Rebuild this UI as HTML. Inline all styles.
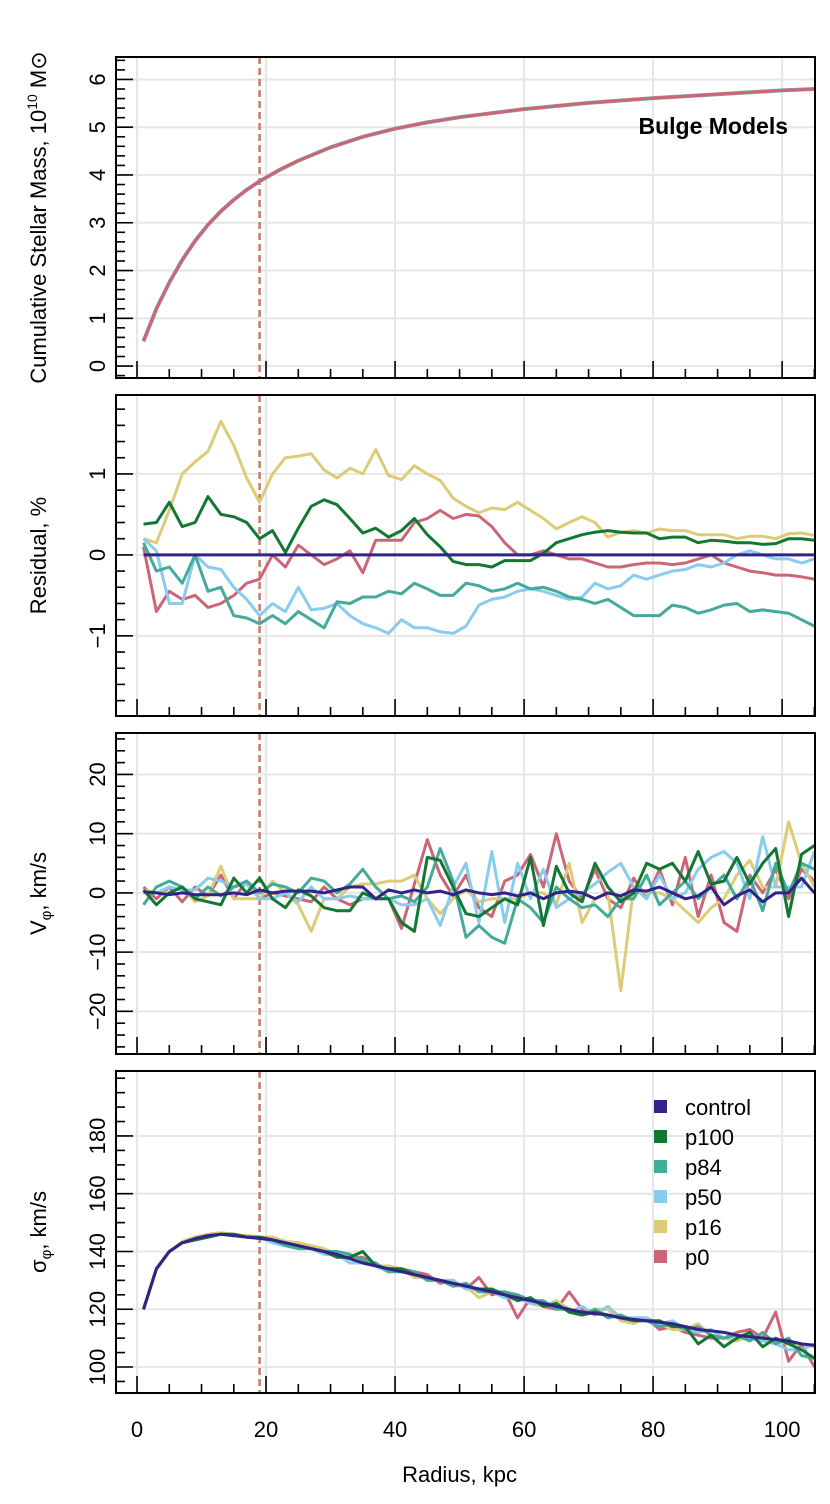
<!DOCTYPE html>
<html><head><meta charset="utf-8">
<style>
html,body{margin:0;padding:0;background:#fff;}
svg{display:block;font-family:"Liberation Sans",sans-serif;}
</style></head>
<body>
<svg id="chart" width="830" height="1504" viewBox="0 0 830 1504" xmlns="http://www.w3.org/2000/svg"></svg>
<script>
const radius = [1,3,5,7,9,11,13,15,17,19,21,23,25,27,29,31,33,35,37,39,41,43,45,47,49,51,53,55,57,59,61,63,65,67,69,71,73,75,77,79,81,83,85,87,89,91,93,95,97,99,101,103,105];
const massRadius = [1,3,5,7,9,11,13,15,17,19,22,25,30,35,40,45,50,60,70,80,90,100,105];
const massValues = [0.52,1.2,1.75,2.22,2.62,2.96,3.24,3.48,3.69,3.87,4.1,4.3,4.58,4.8,4.97,5.1,5.21,5.38,5.51,5.61,5.69,5.77,5.8];
const seriesNames = ["control","p100","p84","p50","p16","p0"];
const seriesColors = ["#332288","#117733","#44AA99","#88CCEE","#DDCC77","#CC6677"];
const xTicks = [0,20,40,60,80,100];

const resControl = radius.map(()=>0);
const resP100 = [0.38,0.4,0.65,0.35,0.4,0.72,0.5,0.47,0.4,0.2,0.3,0.03,0.33,0.6,0.68,0.62,0.45,0.27,0.33,0.22,0.3,0.45,0.25,0.1,-0.08,-0.12,-0.12,-0.15,-0.07,-0.07,-0.07,0.02,0.15,0.2,0.25,0.28,0.3,0.28,0.27,0.27,0.2,0.22,0.22,0.15,0.18,0.17,0.15,0.15,0.13,0.14,0.2,0.2,0.18];
const resP84 = [0.15,-0.2,-0.15,-0.35,0,-0.45,-0.4,-0.75,-0.78,-0.85,-0.75,-0.85,-0.7,-0.8,-0.9,-0.58,-0.6,-0.52,-0.52,-0.45,-0.48,-0.35,-0.42,-0.5,-0.5,-0.35,-0.38,-0.45,-0.42,-0.35,-0.42,-0.4,-0.45,-0.52,-0.55,-0.6,-0.55,-0.65,-0.75,-0.75,-0.75,-0.62,-0.65,-0.72,-0.68,-0.62,-0.6,-0.7,-0.68,-0.7,-0.72,-0.8,-0.88];
const resP50 = [0.2,0.05,-0.6,-0.6,0,-0.15,-0.18,-0.4,-0.55,-0.75,-0.6,-0.7,-0.4,-0.68,-0.66,-0.6,-0.75,-0.85,-0.9,-0.97,-0.8,-0.9,-0.9,-0.95,-0.97,-0.88,-0.62,-0.55,-0.52,-0.45,-0.42,-0.45,-0.5,-0.55,-0.52,-0.35,-0.42,-0.38,-0.25,-0.3,-0.25,-0.2,-0.18,-0.12,-0.15,-0.1,0,0.05,0,-0.05,-0.05,-0.1,-0.05];
const resP16 = [0.2,0.15,0.55,1.0,1.15,1.28,1.65,1.35,0.95,0.65,1.0,1.2,1.22,1.25,1.05,0.95,1.07,1.0,1.3,0.98,0.93,1.1,1.0,0.92,0.7,0.6,0.52,0.58,0.56,0.65,0.55,0.45,0.32,0.4,0.47,0.4,0.22,0.28,0.3,0.27,0.32,0.3,0.3,0.25,0.25,0.25,0.2,0.23,0.23,0.2,0.26,0.27,0.24];
const resP0 = [0.1,-0.7,-0.45,-0.55,-0.5,-0.65,-0.6,-0.5,-0.35,-0.3,0,-0.15,0.12,0,-0.12,-0.05,0.05,-0.22,0.18,0.18,0.18,0.4,0.45,0.55,0.45,0.5,0.48,0.35,0.15,0,0,0.05,0,-0.05,-0.05,-0.1,-0.15,-0.15,-0.12,-0.1,-0.1,-0.12,-0.1,-0.05,0,-0.1,-0.15,-0.2,-0.22,-0.25,-0.25,-0.27,-0.3];

const vControl = [0.2,0,-0.3,0,-0.3,-0.3,-0.3,0,-0.3,0.5,0,0.3,0.3,0.3,0,0.5,1,1,-1,0.5,0,0.5,0,0.3,-0.3,0.5,0,-0.3,0,-0.5,0,-1,0,0.3,0,-1,0,-0.5,0.5,0.3,1,0,-1,-0.5,1,-2,-0.5,0.5,-1.5,0,0,2.5,0];
const vP100 = [0.5,-2,0,1,-1,-1.5,-2,2.5,0,2.5,-1,-2.5,0.5,-0.5,-2.5,-3,-3,0,-1,-1,-5,-6.5,6,5.5,1,-3.5,-4,-2.5,-1,-2,6,-5.5,4.5,0,-1.5,5,1,-1.5,0,5,4,5,2,7,1.5,2,6,1.5,5,7.5,-4,6.5,8];
const vP84 = [-2,1,2,1,-1,1,-0.5,1,2,0,1.5,1,0,2.5,2,0,1.5,4,1,-1,-0.5,-1.5,1,7.5,2,-7.5,-5.5,-7.5,-8.5,-1,-2.5,-5,1,-1,-2.5,-2,-4,-1,-1,3,-2,0,2,-1,1,3,-1,2.5,-3,5,0,5,4];
const vP50 = [0,0,1,0.5,0.5,2.5,2,1,1.5,-1,-1,0,-1.5,1,-1,-1,-0.5,-1,-1,-1,-2,-2,-1,-5.5,1,5,-5,7,-5,5,-1,4,-2.5,-1,0,1.5,3.5,5,1,-1,3,-1,0,4,6,7,5,-1,9.5,1,1,1,7];
const vP16 = [0.5,0,0,1,-1.5,-0.5,4.5,-1,-1,-1,2,0,-2,-6.5,-1,-1,1,1.5,1.5,2,2,3,-1,-3.5,-1,0.5,-1.5,-1,-1,-1,0,0,-2,5,-5,-1,0,-16.5,1,0,0,-1,-3,-5,-2.5,-1,3,5.5,1,1,12,5,1];
const vP0 = [1,-1,1,-1.5,1,-0.5,3,-1,2,-1,0,-0.5,-1,-1.5,1,-1,-2,-1,-1,-1,-6,1.5,9,3,-0.5,3,-2.5,-4,2,3,6.5,1,10,2,-1,4,-1,-2.5,2.5,-1,4,-2,6,-4,3,-5,-6.5,3,0,4,-1,4,2];

const sControl = [120,134,140,143,144.5,145.5,146,145.5,145,144.5,144,143,142,141,140,139,137.5,136,135,134,133,132,131,130,129,128,127,126,125,124,123,122,121,120,119,118.5,118,117,116.5,116,115.5,115,114,113,112.5,112,111,110.5,110,109.5,109,108,107.5];
const sP100 = [120,134,140,143,144,145,146,146,145,145,144,143,142,141,140,138,138,140,135,134,134,132,131,130,129,128,127,127,125,123,124,121,122,119,118,119,118,117,116,116,116,114,114,108,111,107,110,112,107,110,108,106,103];
const sP84 = [120,134,140,143,144,145,146,145.5,145,145,144,142,141,141,140,140,139,137,136,133,133,133,130,130,128,129,126,126,126,125,123,123,120,120,118,120,117,118,116,116,114,115,113,114,111,110,111,109,112,108,110,104,103];
const sP50 = [120,134,140,143,144.5,145.5,146,145.5,145,145,143,142,142,141,139,139,136,136,135,133,134,132,131,130,130,127,127,126,124,124,122,122,122,119,121,118,121,117,117,117,115,116,113,112,113,110,111,110,109,108,106,106,108];
const sP16 = [120,134,140,143.5,145,146,146.5,146,145.5,145,145,143.5,143,142,141,139,139,137,135,135,134,131,131,130,128,128,124,126,125,124,122,121,123,120,118,120,120,116,115,117,115,113,113,115,111,110,109,111,110,109,108,108,107];
const sP0 = [120,134,140,143,145,145.5,146,146,145,145,144,143,143,142,140,139,138,138,135,133,134,133,132,129,130,127,131,125,126,117,124,121,120,126,120,118,121,116,117,117,113,114,112,111,110,110,112,113,110,119,102,108,100];

const resSeries = [resControl,resP100,resP84,resP50,resP16,resP0];
const vSeries = [vControl,vP100,vP84,vP50,vP16,vP0];
const sSeries = [sControl,sP100,sP84,sP50,sP16,sP0];
const markerRadius = 19.0;

const NS = "http://www.w3.org/2000/svg";
const svg = document.getElementById("chart");
function mk(tag, attrs, parent){
  const e = document.createElementNS(NS, tag);
  for (const k in attrs) e.setAttribute(k, attrs[k]);
  (parent||svg).appendChild(e);
  return e;
}
const X0 = 116, X1 = 815;
const xDom = [-3.26, 105.1];
function xs(v){ return X0 + (v - xDom[0]) / (xDom[1]-xDom[0]) * (X1-X0); }

const panels = [
  {name:"mass-panel", top:57, bot:378, dom:[-0.25,6.47], major:[0,1,2,3,4,5,6], labels:["0","1","2","3","4","5","6"], minor:0.2},
  {name:"residual-panel", top:395, bot:716, dom:[-1.99,1.975], major:[-1,0,1], labels:["\u22121","0","1"], minor:0.2},
  {name:"vphi-panel", top:733, bot:1054, dom:[-27.2,27.0], major:[-20,-10,0,10,20], labels:["\u221220","\u221210","0","10","20"], minor:2},
  {name:"sigma-panel", top:1071, bot:1393, dom:[91,202.5], major:[100,120,140,160,180], labels:["100","120","140","160","180"], minor:5}
];

panels.forEach((p, pi) => {
  const g = mk("g", {});
  
  
  const ys = v => p.bot - (v - p.dom[0])/(p.dom[1]-p.dom[0])*(p.bot-p.top);
  p.ys = ys;
  const clipId = "clip"+pi;
  const cp = mk("clipPath", {id:clipId}, g);
  mk("rect", {x:X0, y:p.top, width:X1-X0, height:p.bot-p.top}, cp);
  xTicks.forEach(t => { const gl = mk("line", {x1:xs(t), x2:xs(t), y1:p.top, y2:p.bot, stroke:"#e6e6e6", "stroke-width":2}, g);
      });
  p.major.forEach(t => { const gl = mk("line", {x1:X0, x2:X1, y1:ys(t), y2:ys(t), stroke:"#e6e6e6", "stroke-width":2}, g);
      });
  for (let v = Math.ceil(p.dom[0]/p.minor)*p.minor; v <= p.dom[1]; v += p.minor) {
    const vv = Math.round(v*1000)/1000;
    const isMaj = p.major.some(m => Math.abs(m-vv) < 1e-6);
    const t = mk("line", {x1:X0, x2:X0+(isMaj?17:9), y1:ys(vv), y2:ys(vv), stroke:"#000", "stroke-width":1.6}, g);
     
  }
  for (let v = 0; v <= 105; v += 5) {
    const isMaj = v % 20 === 0;
    const t = mk("line", {x1:xs(v), x2:xs(v), y1:p.bot, y2:p.bot-(isMaj?17:9), stroke:"#000", "stroke-width":1.6}, g);
     
  }
  p.major.forEach((t,i) => {
    const tx = mk("text", {x:0, y:0, transform:`translate(105,${ys(t)}) rotate(-90)`, "text-anchor":"middle", "font-size":22}, g);
    tx.textContent = p.labels[i];
     
  });
  const cy = (p.top+p.bot)/2;
  const tt = mk("text", {x:0, y:0, transform:`translate(46,${cy}) rotate(-90)`, "text-anchor":"middle", "font-size":22}, g);
   
  if (pi === 0) {
    tt.textContent = "Cumulative Stellar Mass, 10";
    const sup = mk("tspan", {"font-size":14, dy:-9}, tt); sup.textContent = "10";
    const rest = mk("tspan", {dy:9}, tt); rest.textContent = " M\u2299";
  } else if (pi === 2) {
    tt.textContent = "V";
    const s = mk("tspan", {"font-size":15, dy:5}, tt); s.textContent = "\u03c6";
    const r = mk("tspan", {dy:-5}, tt); r.textContent = ", km/s";
  } else if (pi === 3) {
    tt.textContent = "\u03c3";
    const s = mk("tspan", {"font-size":15, dy:5}, tt); s.textContent = "\u03c6";
    const r = mk("tspan", {dy:-5}, tt); r.textContent = ", km/s";
  } else tt.textContent = "Residual, %";

  const dg = mk("g", {"clip-path":`url(#${clipId})`}, g);
  p.dg = dg;
  const ml = mk("line", {x1:xs(markerRadius), x2:xs(markerRadius), y1:p.top, y2:p.bot, stroke:"#c87a6a", "stroke-width":2.5, "stroke-dasharray":"7,4"}, dg);
   
  p.frame = () => {
    const f = mk("rect", {x:X0, y:p.top, width:X1-X0, height:p.bot-p.top, fill:"none", stroke:"#000", "stroke-width":2}, g);
     
  };
});

function drawLine(p, xsArr, ysArr, color, width, name){
  const d = xsArr.map((r,i) => (i?"L":"M") + xs(r).toFixed(1) + "," + p.ys(ysArr[i]).toFixed(1)).join(" ");
  const path = mk("path", {d, fill:"none", stroke:color, "stroke-width":width, "stroke-linejoin":"round"}, p.dg);
  
  
}

drawLine(panels[0], massRadius, massValues, "#88aaaa", 4, "mass-line-underlay");
drawLine(panels[0], massRadius, massValues, "#CC6677", 3, "mass-line");
const order = [5,4,3,2,1,0];
order.forEach(i => drawLine(panels[1], radius, resSeries[i], seriesColors[i], 3, "residual-line-"+seriesNames[i]));
order.forEach(i => drawLine(panels[2], radius, vSeries[i], seriesColors[i], 3, "vphi-line-"+seriesNames[i]));
order.forEach(i => drawLine(panels[3], radius, sSeries[i], seriesColors[i], 3, "sigma-line-"+seriesNames[i]));
panels.forEach(p => p.frame());

const bm = mk("text", {x:788, y:134, "text-anchor":"end", "font-size":23, "font-weight":"bold"});
bm.textContent = "Bulge Models";
 

xTicks.forEach(t => {
  const tx = mk("text", {x:xs(t), y:1437, "text-anchor":"middle", "font-size":22});
  tx.textContent = String(t);
   
});
const xt = mk("text", {x:xs(50), y:1482, "text-anchor":"middle", "font-size":22});
xt.textContent = "Radius, kpc";
 

const lg = mk("g", {});
 
seriesNames.forEach((n,i) => {
  const y = 1107 + i*30;
  const e = mk("g", {}, lg);
   
  mk("rect", {x:654, y:y-7, width:13, height:13, fill:seriesColors[i]}, e);
  const t = mk("text", {x:685, y:y+8, "font-size":22}, e);
  t.textContent = n;
});
</script>
</body></html>
